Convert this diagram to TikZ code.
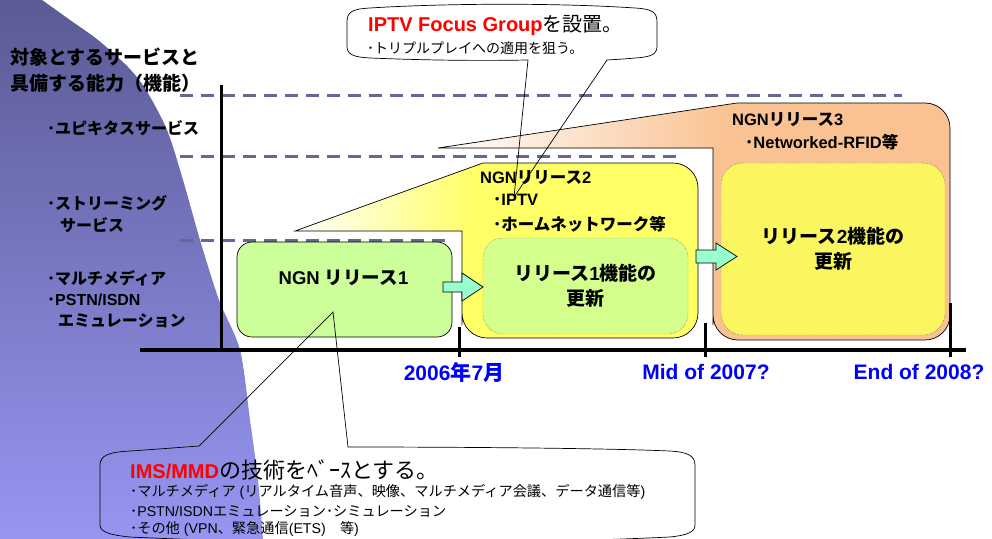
\documentclass[tikz,border=0pt]{standalone}
\usepackage{fontspec}
\setmainfont{Liberation Sans}
\newfontfamily\jp{Noto Sans CJK JP}
\newcommand\J[1]{{\jp #1}}
\definecolor{purpTop}{RGB}{90,90,148}
\definecolor{purpBot}{RGB}{150,150,242}
\definecolor{dashc}{RGB}{102,102,153}
\definecolor{ylw}{RGB}{255,255,102}
\definecolor{org}{RGB}{250,194,146}
\definecolor{grn}{RGB}{204,255,153}
\definecolor{grn2}{RGB}{212,255,140}
\definecolor{ylw2}{RGB}{250,246,96}
\definecolor{aqua}{RGB}{153,255,204}
\definecolor{dblue}{RGB}{0,0,255}
\begin{document}
\begin{tikzpicture}[x=1pt,y=-1pt,
  ttl/.style={anchor=west,inner sep=0pt,font=\fontsize{19}{21}\selectfont\bfseries},
  side/.style={anchor=west,inner sep=0pt,font=\fontsize{16}{18}\selectfont\bfseries},
  rel/.style={anchor=west,inner sep=0pt,font=\fontsize{16.5}{18}\selectfont\bfseries},
  datel/.style={inner sep=0pt,text=dblue,font=\fontsize{21}{23}\selectfont\bfseries},
  upd/.style={draw=black!70,densely dotted,rounded corners=20pt,inner sep=0pt,align=center,
              font=\fontsize{19}{25}\selectfont\bfseries},
  small/.style={anchor=west,inner sep=0pt,font=\fontsize{14.2}{16}\selectfont},
  dashl/.style={dashc,line width=3pt,dash pattern=on 13pt off 8pt},
  blk/.style={draw=black,line width=0.7pt},
  barr/.style={draw=black,line width=0.7pt,fill=aqua}]
\useasboundingbox (0,0) rectangle (992,538);
\clip (0,0) rectangle (992,538);
\fill[white] (0,0) rectangle (992,538);
% purple background
\shade[top color=purpTop,bottom color=purpBot]
  (0,-2) -- (40,-2) -- plot[smooth] coordinates {(42,0) (70,20) (98,40) (128,67) (146,90) (167,130) (183,180) (200,240) (219,300) (240,350) (250,420) (258,480) (263,540)} -- (0,540) -- cycle;
% dashed level lines
\draw[dashl] (180,95) -- (902,95);
\draw[dashl] (180,156) -- (682,156);
\draw[dashl] (180,240) -- (445,240);
% vertical axis
\draw[line width=3pt] (221,85) -- (221,350);
% release 3 shape
\fill[org] (438,148) -- (737,103) [rounded corners=25pt] -- (950,103) -- (950,340) -- (713,340) -- (713,300) [sharp corners] -- (713,148) -- cycle;
\begin{scope}
  \clip (438,148) -- (737,103) -- (737,148) -- cycle;
  \shade[left color=white,right color=org] (438,95) rectangle (730,150);
\end{scope}
\draw[blk] (438,148) -- (737,103) [rounded corners=25pt] -- (950,103) -- (950,340) -- (713,340) -- (713,300) [sharp corners] -- (713,148) -- cycle;
% release 2 shape
\fill[ylw] (295,231) -- (483,163) [rounded corners=25pt] -- (698,163) -- (698,338) -- (462,338) -- (462,300) [sharp corners] -- (462,231) -- cycle;
\begin{scope}
  \clip (295,231) -- (483,163) -- (483,231) -- cycle;
  \shade[left color=white,right color=ylw] (295,158) rectangle (475,233);
\end{scope}
\draw[blk] (295,231) -- (483,163) [rounded corners=25pt] -- (698,163) -- (698,338) -- (462,338) -- (462,300) [sharp corners] -- (462,231) -- cycle;
% release 1 box
\node[blk,fill=grn,rounded corners=15pt,minimum width=215pt,minimum height=95pt,inner sep=0pt] (r1) at (344.5,289.5) {};
% update boxes
\node[upd,fill=grn2,minimum width=205pt,minimum height=96pt] (u1) at (585.5,286) {\J{リリース}1\J{機能の}\\\J{更新}};
\node[upd,fill=ylw2,minimum width=224pt,minimum height=172pt,rounded corners=22pt] (u2) at (833,249) {\J{リリース}2\J{機能の}\\\J{更新}};
% block arrows
\draw[barr] (443,282) -- (462,282) -- (462,273) -- (483,287) -- (462,301) -- (462,292) -- (443,292) -- cycle;
\draw[barr] (696,250) -- (716,250) -- (716,243) -- (737,256.5) -- (716,270) -- (716,263) -- (696,263) -- cycle;
% horizontal axis and ticks
\draw[line width=4pt] (140,350) -- (966,350);
\draw[line width=3pt] (459,327) -- (459,357);
\draw[line width=3pt] (705,323) -- (705,357);
\draw[line width=3pt] (950,303) -- (950,357);
% texts left
\node[ttl] (t1) at (10,57) {\J{対象とするサービスと}};
\node[ttl] (t2) at (10,83) {\J{具備する能力（機能）}};
\node[side] (s1) at (47,128) {\J{･ユピキタスサービス}};
\node[side] (s2) at (47,203) {\J{･ストリーミング}};
\node[side] (s3) at (60,225) {\J{サービス}};
\node[side] (s4) at (47,278) {\J{･マルチメディア}};
\node[side] (s5) at (47,300) {\J{･}PSTN/ISDN};
\node[side] (s6) at (58,321) {\J{エミュレーション}};
% release labels
\node[inner sep=0pt,font=\fontsize{18.5}{20}\selectfont\bfseries] (n1) at (343.5,278) {NGN \J{リリース}1};
\node[rel] (n2a) at (480,178) {NGN\J{リリース}2};
\node[rel] (n2b) at (493,200) {\J{･}IPTV};
\node[rel] (n2c) at (493,224) {\J{･ホームネットワーク等}};
\node[rel] (n3a) at (732,120) {NGN\J{リリース}3};
\node[rel] (n3b) at (745,142) {\J{･}Networked-RFID\J{等}};
% dates
\node[datel] (d1) at (454,372) {2006\J{年}7\J{月}};
\node[datel] (d2) at (706,372) {Mid of 2007?};
\node[datel] (d3) at (919,372) {End of 2008?};
% top callout
\coordinate (tip1) at (514,197);
\draw[blk] (347,22) .. controls (347,12) and (352,9) .. (370,8) .. controls (450,3) and (560,3) .. (635,8) .. controls (652,9) and (657,12) .. (657,22) -- (657,46) .. controls (657,54) and (652,57) .. (635,58) .. controls (625,59) and (615,59.5) .. (607,60) -- (tip1) -- (528,60) .. controls (470,61) and (420,60) .. (370,58) .. controls (352,57) and (347,54) .. (347,46) -- cycle;
\node[anchor=west,inner sep=0pt,font=\fontsize{20}{22}\selectfont] (c1a) at (368,25) {\textcolor{red}{\bfseries IPTV Focus Group}\J{を設置。}};
\node[anchor=west,inner sep=0pt,font=\fontsize{14}{16}\selectfont] (c1b) at (367,48) {\J{･トリプルプレイへの適用を狙う。}};
% bottom callout
\coordinate (tip2) at (333,312);
\draw[blk] (100,465) .. controls (100,455) and (110,452) .. (130,451) .. controls (160,449) and (185,447) .. (199,446) -- (tip2) -- (348,447) .. controls (450,447) and (600,448) .. (670,451) .. controls (688,452) and (695,456) .. (695,465) -- (695,525) .. controls (695,532) and (688,535) .. (670,537) .. controls (500,545) and (300,545) .. (130,537) .. controls (110,535) and (100,532) .. (100,525) -- cycle;
\node[anchor=west,inner sep=0pt,font=\fontsize{20}{22}\selectfont] (c2a) at (130,470) {\textcolor{red}{\bfseries IMS/MMD}{\fontsize{22}{24}\selectfont\J{の技術をﾍﾞｰｽとする。}}};
\node[small] (c2b) at (130,492) {\J{･マルチメディア} (\J{リアルタイム音声、映像、マルチメディア会議、データ通信等})};
\node[small] (c2c) at (130,511) {\J{･}PSTN/ISDN\J{エミュレーション･シミュレーション}};
\node[small] (c2d) at (130,529) {\J{･その他} (VPN\J{、緊急通信}(ETS)\J{　等})};
\end{tikzpicture}
\end{document}
